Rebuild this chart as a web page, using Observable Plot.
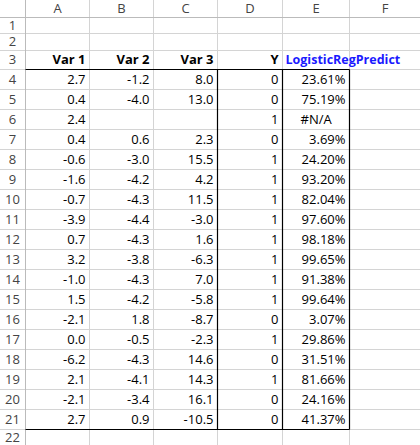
<!DOCTYPE html>
<html><head><meta charset="utf-8">
<script src="https://cdn.jsdelivr.net/npm/d3@7"></script>
<script src="https://cdn.jsdelivr.net/npm/@observablehq/plot@0.6"></script>
<style>body{margin:0;background:#fff}</style>
</head><body><div id="chart"></div>
<script>
const colLetters = ["A","B","C","D","E","F"];
const headers = ["Var 1","Var 2","Var 3","Y"];
const predHeader = "LogisticRegPredict";
const var1 = [2.7,0.4,2.4,0.4,-0.6,-1.6,-0.7,-3.9,0.7,3.2,-1.0,1.5,-2.1,0.0,-6.2,2.1,-2.1,2.7];
const var2 = [-1.2,-4.0,null,0.6,-3.0,-4.2,-4.3,-4.4,-4.3,-3.8,-4.3,-4.2,1.8,-0.5,-4.3,-4.1,-3.4,0.9];
const var3 = [8.0,13.0,null,2.3,15.5,4.2,11.5,-3.0,1.6,-6.3,7.0,-5.8,-8.7,-2.3,14.6,14.3,16.1,-10.5];
const yVals = [0,0,1,0,1,1,1,1,1,1,1,1,0,1,0,1,0,0];
const pred = ["23.61%","75.19%","#N/A","3.69%","24.20%","93.20%","82.04%","97.60%","98.18%","99.65%","91.38%","99.64%","3.07%","29.86%","31.51%","81.66%","24.16%","41.37%"];

// layout (pixel geometry of the grid)
const colEdges = [0,25,89,153,217,282,349,420];
const rowEdges = [0,17,33,50,69];
for (let i = 0; i < 18; i++) rowEdges.push(69 + 20*(i+1));
rowEdges.push(445);
const rowTop = r => rowEdges[r], rowMid = r => (rowEdges[r]+rowEdges[r+1])/2;

const boldCells = headers.map((h,i)=>({x:colEdges[i+2]-4,y:rowMid(3),t:h}));
const blueCells = [{x:colEdges[5]+3,y:rowMid(3),t:predHeader}];
const numCells = [], leftCells = [];
const f1 = v => v==null?"":v.toFixed(1);
for (let i=0;i<18;i++){
  const r=i+4;
  [f1(var1[i]),f1(var2[i]),f1(var3[i]),String(yVals[i]),pred[i]].forEach((t,j)=>{
    if(!t) return;
    if (t==="#N/A") leftCells.push({x:colEdges[j+1]+18,y:rowMid(r),t});
    else numCells.push({x:colEdges[j+2]-4,y:rowMid(r),t});
  });
}
const colHead = colLetters.map((l,i)=>({x:(colEdges[i+1]+colEdges[i+2])/2,y:rowMid(0),t:l}));
const rowHead = d3.range(1,23).map(r=>({x:12,y:rowMid(r),t:String(r)}));

const vGrid = colEdges.slice(1).map(x=>({x}));
const hGrid = rowEdges.slice(1).map(y=>({y}));
const black = [
  {x1:25,x2:349,y1:rowTop(4),y2:rowTop(4)},
  {x1:25,x2:349,y1:rowTop(22),y2:rowTop(22)},
  {x1:217,x2:217,y1:rowTop(4),y2:rowTop(22)},
  {x1:282,x2:282,y1:rowTop(4),y2:rowTop(22)},
  {x1:349,x2:349,y1:rowTop(4),y2:rowTop(22)}
];

const chart = Plot.plot({
  width:420,height:445,margin:0,
  x:{domain:[0,420],axis:null},
  y:{domain:[0,445],range:[0,445],axis:null},
  style:{fontFamily:"'Open Sans',sans-serif",background:"#fff"},
  marks:[
    Plot.ruleX(vGrid,{x:"x",y1:0,y2:445,stroke:"#d4d4d4"}),
    Plot.ruleY(hGrid,{y:"y",x1:0,x2:420,stroke:"#d4d4d4"}),
    Plot.ruleX([25],{y1:0,y2:445,stroke:"#bbb"}),
    Plot.ruleY([17],{x1:0,x2:420,stroke:"#bbb"}),
    Plot.link(black,{x1:"x1",x2:"x2",y1:"y1",y2:"y2",stroke:"#000",strokeWidth:1.2}),
    Plot.text(colHead,{x:"x",y:"y",text:"t",fontSize:13,fill:"#444"}),
    Plot.text(rowHead,{x:"x",y:"y",text:"t",fontSize:13,fill:"#444"}),
    Plot.text(numCells,{x:"x",y:"y",text:"t",textAnchor:"end",fill:"#000",fontSize:13}),
    Plot.text(leftCells,{x:"x",y:"y",text:"t",textAnchor:"start",fill:"#000",fontSize:13}),
    Plot.text(boldCells,{x:"x",y:"y",text:"t",textAnchor:"end",fontWeight:"bold",fill:"#000",fontSize:13}),
    Plot.text(blueCells,{x:"x",y:"y",text:"t",textAnchor:"start",fontWeight:"bold",fill:"#1a1aff",fontSize:12.5})
  ]
});
document.getElementById("chart").append(chart);
</script></body></html>
